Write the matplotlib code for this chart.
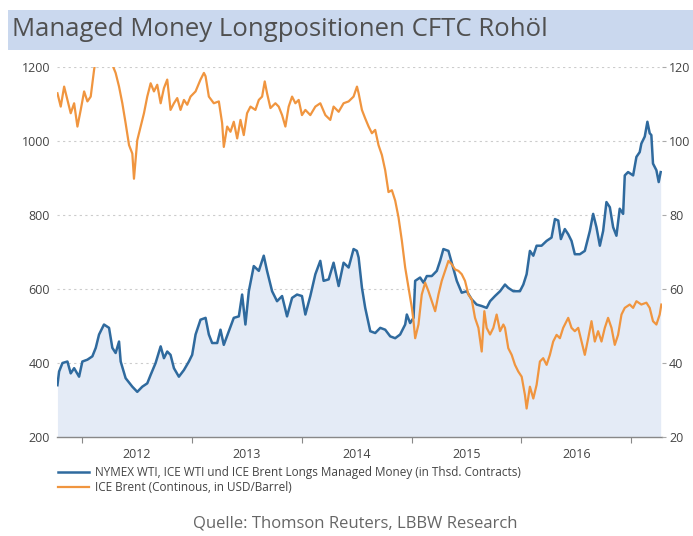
import matplotlib
matplotlib.use("Agg")
import matplotlib.pyplot as plt
from matplotlib.lines import Line2D
from matplotlib.patches import Rectangle

# Managed money longs (thousand contracts), decimal-year dates
mm_t = [2011.774, 2011.789, 2011.820, 2011.865, 2011.895, 2011.926, 2011.971, 2012.001,
        2012.047, 2012.092, 2012.123, 2012.153, 2012.198, 2012.244, 2012.274, 2012.304,
        2012.335, 2012.350, 2012.395, 2012.456, 2012.501, 2012.547, 2012.592, 2012.623,
        2012.668, 2012.714, 2012.744, 2012.774, 2012.804, 2012.835, 2012.880, 2012.926,
        2012.971, 2013.001, 2013.032, 2013.077, 2013.123, 2013.153, 2013.183, 2013.229,
        2013.259, 2013.289, 2013.335, 2013.380, 2013.426, 2013.456, 2013.486, 2013.517,
        2013.562, 2013.608, 2013.653, 2013.683, 2013.729, 2013.774, 2013.820, 2013.865,
        2013.911, 2013.956, 2014.001, 2014.032, 2014.077, 2014.123, 2014.168, 2014.198,
        2014.244, 2014.289, 2014.335, 2014.380, 2014.426, 2014.471, 2014.501, 2014.517,
        2014.547, 2014.577, 2014.623, 2014.668, 2014.714, 2014.759, 2014.805, 2014.850,
        2014.895, 2014.941, 2014.956, 2014.986, 2015.017, 2015.032, 2015.077, 2015.108,
        2015.138, 2015.183, 2015.229, 2015.259, 2015.289, 2015.335, 2015.365, 2015.411,
        2015.456, 2015.502, 2015.547, 2015.592, 2015.638, 2015.683, 2015.714, 2015.759,
        2015.805, 2015.850, 2015.880, 2015.926, 2015.986, 2016.017, 2016.047, 2016.077,
        2016.108, 2016.138, 2016.183, 2016.229, 2016.274, 2016.305, 2016.335, 2016.359,
        2016.395, 2016.426, 2016.456, 2016.486, 2016.532, 2016.577, 2016.623, 2016.653,
        2016.683, 2016.714, 2016.744, 2016.774, 2016.805, 2016.835, 2016.865, 2016.895,
        2016.926, 2016.941, 2016.971, 2017.017, 2017.047, 2017.077, 2017.092, 2017.123,
        2017.147, 2017.168, 2017.183, 2017.198, 2017.229, 2017.250, 2017.268]
mm_v = [340, 377, 400, 404, 372, 386, 363, 404,
        409, 418, 441, 477, 504, 495, 441, 427,
        458, 404, 359, 336, 322, 336, 345, 368,
        400, 445, 413, 431, 422, 386, 363, 381,
        404, 422, 477, 517, 522, 477, 454, 454,
        490, 449, 486, 522, 526, 585, 504, 594,
        662, 649, 690, 649, 594, 567, 581, 526,
        576, 585, 581, 531, 581, 640, 676, 622,
        626, 671, 608, 671, 658, 708, 703, 685,
        604, 549, 486, 481, 495, 490, 472, 467,
        477, 504, 531, 508, 522, 622, 631, 617,
        635, 635, 649, 676, 708, 703, 671, 622,
        590, 594, 572, 558, 554, 549, 567, 581,
        594, 612, 603, 594, 594, 612, 640, 703,
        690, 717, 717, 730, 739, 789, 785, 735,
        762, 748, 730, 694, 694, 703, 757, 803,
        767, 717, 757, 835, 821, 767, 744, 817,
        803, 907, 916, 907, 957, 970, 993, 1012,
        1052, 1021, 1016, 939, 921, 889, 916]

# ICE Brent (USD/barrel)
br_t = [2011.774, 2011.804, 2011.835, 2011.865, 2011.895, 2011.926, 2011.956, 2011.986,
        2012.017, 2012.047, 2012.077, 2012.108, 2012.123, 2012.168, 2012.214, 2012.259,
        2012.274, 2012.304, 2012.335, 2012.365, 2012.395, 2012.426, 2012.456, 2012.471,
        2012.501, 2012.532, 2012.562, 2012.592, 2012.623, 2012.653, 2012.683, 2012.714,
        2012.744, 2012.774, 2012.804, 2012.835, 2012.865, 2012.895, 2012.926, 2012.956,
        2012.986, 2013.032, 2013.077, 2013.108, 2013.123, 2013.153, 2013.198, 2013.244,
        2013.274, 2013.289, 2013.320, 2013.350, 2013.380, 2013.411, 2013.441, 2013.471,
        2013.501, 2013.532, 2013.577, 2013.608, 2013.638, 2013.662, 2013.683, 2013.714,
        2013.759, 2013.789, 2013.820, 2013.850, 2013.880, 2013.911, 2013.941, 2013.971,
        2014.001, 2014.032, 2014.077, 2014.123, 2014.168, 2014.214, 2014.259, 2014.289,
        2014.335, 2014.380, 2014.426, 2014.471, 2014.502, 2014.517, 2014.547, 2014.577,
        2014.608, 2014.638, 2014.668, 2014.698, 2014.729, 2014.759, 2014.789, 2014.820,
        2014.850, 2014.880, 2014.911, 2014.941, 2014.971, 2015.002, 2015.017, 2015.032,
        2015.062, 2015.092, 2015.123, 2015.153, 2015.183, 2015.214, 2015.244, 2015.274,
        2015.305, 2015.335, 2015.365, 2015.395, 2015.426, 2015.456, 2015.486, 2015.517,
        2015.547, 2015.577, 2015.608, 2015.638, 2015.662, 2015.683, 2015.714, 2015.744,
        2015.774, 2015.805, 2015.835, 2015.850, 2015.880, 2015.911, 2015.941, 2015.971,
        2016.002, 2016.032, 2016.047, 2016.077, 2016.108, 2016.138, 2016.168, 2016.198,
        2016.229, 2016.259, 2016.289, 2016.320, 2016.350, 2016.380, 2016.426, 2016.456,
        2016.486, 2016.517, 2016.547, 2016.577, 2016.608, 2016.638, 2016.668, 2016.698,
        2016.729, 2016.759, 2016.789, 2016.820, 2016.850, 2016.880, 2016.911, 2016.941,
        2016.986, 2017.017, 2017.047, 2017.092, 2017.138, 2017.168, 2017.198, 2017.229,
        2017.259, 2017.274]
br_v = [112.9, 109.3, 114.7, 111.1, 107.5, 110.2, 103.9, 108.4,
        113.4, 110.7, 112.0, 119.3, 122.0, 124.0, 125.5, 121.0,
        120.6, 118.4, 114.7, 110.2, 104.8, 98.9, 96.6, 89.8,
        100.2, 103.9, 107.5, 112.0, 115.6, 113.4, 115.2, 110.2,
        114.3, 116.6, 108.4, 110.2, 111.6, 108.4, 111.1, 109.8,
        112.0, 113.4, 116.6, 118.4, 117.5, 112.0, 110.2, 110.7,
        104.8, 98.4, 103.9, 102.5, 105.2, 100.7, 105.7, 101.6,
        107.5, 109.3, 108.4, 111.1, 112.0, 116.1, 112.9, 108.9,
        110.2, 109.3, 107.0, 103.9, 109.3, 112.0, 110.2, 111.1,
        107.0, 108.4, 107.0, 109.3, 110.2, 107.0, 105.7, 109.3,
        107.9, 110.2, 110.7, 112.0, 114.7, 112.9, 108.4, 106.1,
        103.9, 102.1, 103.0, 98.9, 96.2, 92.1, 86.2, 86.7,
        83.9, 79.4, 73.0, 65.8, 60.4, 54.9, 51.3, 46.7,
        50.4, 58.5, 61.7, 59.4, 56.7, 54.0, 58.5, 62.2,
        64.9, 67.6, 66.7, 65.3, 64.9, 64.0, 62.2, 58.5,
        57.2, 52.2, 49.5, 43.1, 54.0, 49.5, 47.7, 49.5,
        53.1, 48.6, 50.4, 49.5, 44.0, 42.2, 39.5, 37.7,
        36.3, 31.3, 27.7, 33.6, 30.4, 34.1, 40.4, 41.3,
        39.5, 42.2, 45.8, 47.6, 46.7, 49.5, 52.2, 49.5,
        48.6, 49.5, 45.8, 42.2, 46.7, 51.3, 45.8, 48.6,
        45.8, 49.5, 52.2, 49.5, 44.9, 47.6, 53.1, 54.9,
        55.8, 54.9, 56.7, 55.8, 56.3, 54.9, 51.3, 50.4,
        53.1, 55.8]

years = [2012, 2013, 2014, 2015, 2016]
left_ticks = [200, 400, 600, 800, 1000, 1200]
right_ticks = [20, 40, 60, 80, 100, 120]

title = "Managed Money Longpositionen CFTC Rohöl"
leg1 = "NYMEX WTI, ICE WTI und ICE Brent Longs Managed Money (in Thsd. Contracts)"
leg2 = "ICE Brent (Continous, in USD/Barrel)"
source = "Quelle: Thomson Reuters, LBBW Research"

BLUE = "#2f6a9e"
ORANGE = "#f0953f"
FILL = "#e4ebf6"
TXT = "#444444"

plt.rcParams['font.family'] = ['Open Sans', 'DejaVu Sans']

fig = plt.figure(figsize=(6.93, 5.36), dpi=100)
fig.patch.set_facecolor("white")

# title bar
fig.patches.append(Rectangle((8/693, 1-50/536), 1-8/693, 40/536, transform=fig.transFigure,
                             facecolor="#cad8ee", edgecolor="none", zorder=0))
fig.text(12/693, 1-30/536, title, fontsize=18.5, color="#505050", va="center", ha="left")

ax = fig.add_axes([57/693, 1-437/536, (662-57)/693, (437-67)/536])
ax.set_xlim(2011.77, 2017.28)
ax.set_ylim(200, 1200)
ax.fill_between(mm_t, 200, mm_v, color=FILL, linewidth=0, zorder=1)
ax.plot(mm_t, mm_v, color=BLUE, lw=1.8, zorder=3)

for v in left_ticks[1:]:
    ax.axhline(v, color="#cccccc", lw=0.8, ls=(0, (2, 3)), zorder=0.5)

for s in ["top", "left", "right"]:
    ax.spines[s].set_visible(False)
ax.spines["bottom"].set_color("#888888")
ax.spines["bottom"].set_linewidth(1.0)

ax.set_yticks(left_ticks)
ax.set_yticklabels([str(v) for v in left_ticks], fontsize=9, color=TXT)
ax.tick_params(axis="y", length=0, pad=5)

yr_bounds = [y for y in range(2012, 2018)]
ax.set_xticks(yr_bounds)
ax.set_xticklabels([])
ax.tick_params(axis="x", which="major", length=4, color="#888888", direction="out")
ax.set_xticks([y + 0.5 for y in years], minor=True)
ax.set_xticklabels([str(y) for y in years], minor=True, fontsize=9, color=TXT)
ax.tick_params(axis="x", which="minor", length=0, pad=8)

ax2 = ax.twinx()
ax2.set_ylim(20, 120)
ax2.plot(br_t, br_v, color=ORANGE, lw=1.6, zorder=3)
for s in ["top", "left", "right", "bottom"]:
    ax2.spines[s].set_visible(False)
ax2.set_yticks(right_ticks)
ax2.set_yticklabels([str(v) for v in right_ticks], fontsize=9, color=TXT)
ax2.tick_params(axis="y", length=3, color="#aaaaaa", pad=2)

handles = [Line2D([], [], color=BLUE, lw=1.8), Line2D([], [], color=ORANGE, lw=1.6)]
fig.legend(handles, [leg1, leg2], loc="upper left", bbox_to_anchor=(58/693, 1-466/536),
           frameon=False, fontsize=8.5, handlelength=2.6, handletextpad=0.5,
           labelspacing=0.15, borderaxespad=0, borderpad=0, labelcolor=TXT)

fig.text(355/693, 1-524/536, source, fontsize=12, color="#666666", ha="center", va="center")

fig.savefig("out.png", dpi=100)
